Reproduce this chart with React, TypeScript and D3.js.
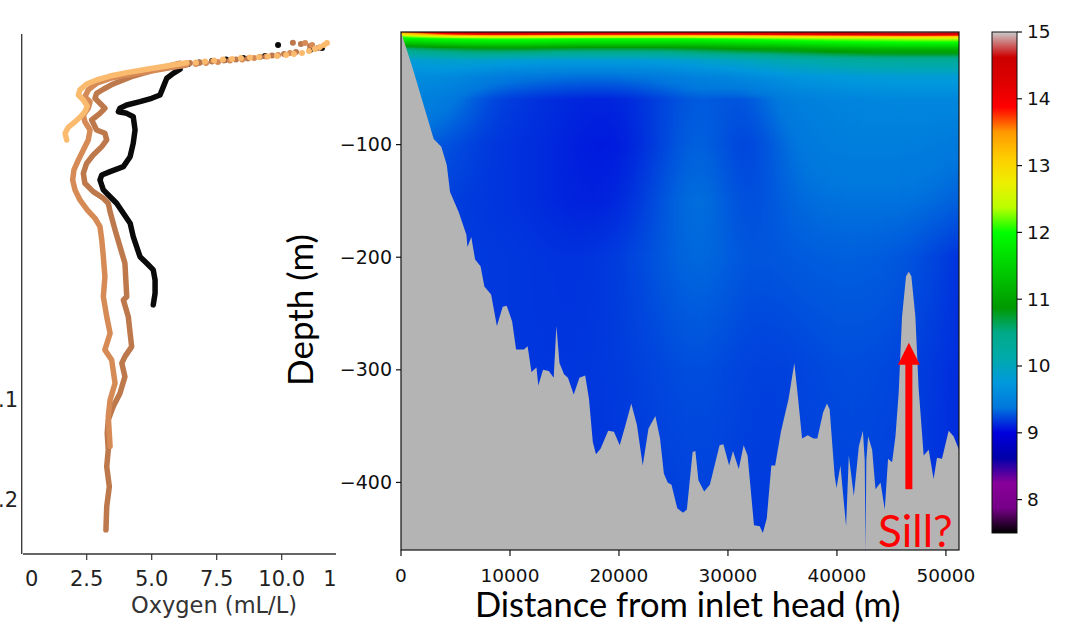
import React from 'react';
import * as d3 from 'd3';

// ---------- Right panel: temperature section ----------
const distanceNodes = [0, 4000, 8000, 12000, 16000, 20000, 24000, 28000, 32000, 36000, 40000, 44000, 48000, 51200];
const depthNodes = [0, 2, 4, 6, 10, 15, 25, 40, 60, 100, 150, 200, 300, 460];
const temperatureRows = [
  [13.6, 14.4, 14.7, 14.6, 14.5, 14.4, 14.4, 14.4, 14.4, 14.5, 14.6, 14.8, 14.9, 14.8],
  [12.9, 13.8, 14.2, 14.1, 14.1, 14.0, 14.0, 14.0, 14.1, 14.2, 14.3, 14.4, 14.5, 14.4],
  [12.2, 12.6, 12.9, 12.8, 12.7, 12.7, 12.6, 12.7, 12.8, 13.0, 13.1, 13.2, 13.3, 13.2],
  [11.9, 12.0, 12.1, 12.1, 12.0, 12.0, 12.0, 12.0, 12.1, 12.2, 12.3, 12.3, 12.4, 12.4],
  [11.3, 11.5, 11.6, 11.6, 11.5, 11.5, 11.5, 11.5, 11.6, 11.7, 11.8, 11.9, 11.9, 11.9],
  [10.5, 10.7, 10.8, 10.8, 10.7, 10.7, 10.7, 10.8, 10.9, 11.0, 11.1, 11.2, 11.2, 11.2],
  [9.8, 9.9, 9.9, 9.8, 9.8, 9.8, 9.8, 9.9, 10.0, 10.1, 10.2, 10.3, 10.3, 10.3],
  [9.6, 9.6, 9.45, 9.38, 9.35, 9.35, 9.4, 9.5, 9.55, 9.7, 9.75, 9.8, 9.8, 9.8],
  [9.5, 9.45, 9.22, 9.16, 9.12, 9.1, 9.2, 9.32, 9.22, 9.45, 9.5, 9.55, 9.55, 9.55],
  [9.32, 9.27, 9.17, 9.15, 9.1, 9.06, 9.2, 9.36, 9.16, 9.36, 9.45, 9.45, 9.45, 9.4],
  [9.24, 9.2, 9.17, 9.15, 9.1, 9.1, 9.25, 9.4, 9.2, 9.32, 9.36, 9.36, 9.36, 9.3],
  [9.2, 9.18, 9.18, 9.17, 9.15, 9.18, 9.27, 9.36, 9.25, 9.28, 9.3, 9.3, 9.26, 9.16],
  [9.18, 9.18, 9.18, 9.17, 9.17, 9.18, 9.22, 9.26, 9.2, 9.2, 9.24, 9.24, 9.2, 9.14],
  [9.16, 9.16, 9.16, 9.16, 9.16, 9.16, 9.18, 9.2, 9.18, 9.18, 9.2, 9.2, 9.18, 9.13],
];

// seabed: [distance (m), depth (m)]
const bathymetry: [number, number][] = [
  [0, 0], [1000, -30], [3000, -95], [3700, -102], [4200, -118], [4500, -142], [5300, -160], [6000, -180],
  [6100, -191], [6450, -182], [6800, -202], [7300, -208], [7650, -226], [8270, -233], [8800, -261],
  [9330, -244], [9700, -243], [10200, -257], [10560, -282], [11270, -282], [11620, -279], [11970, -302],
  [12430, -298], [12600, -314], [13030, -300], [13560, -301], [14010, -307], [14260, -261], [14540, -294],
  [14960, -304], [15320, -307], [15850, -322], [16370, -307], [16900, -305], [17250, -326], [17600, -364],
  [17890, -375], [18310, -370], [19010, -354], [19540, -355], [20070, -367], [20600, -349], [21130, -330],
  [21650, -349], [22180, -385], [22710, -352], [23340, -341], [23770, -361], [24120, -392], [24470, -400],
  [24820, -402], [25350, -423], [25880, -427], [26230, -424], [26760, -373], [27010, -372], [27290, -398],
  [27820, -408], [28340, -402], [29230, -367], [29580, -366], [30110, -385], [30460, -372], [30990, -388],
  [31440, -367], [31800, -376], [32390, -438], [32920, -439], [33200, -445], [33560, -432], [33980, -385],
  [34330, -385], [34860, -355], [35560, -326], [36090, -294], [36440, -326], [36800, -361], [37320, -358],
  [37850, -361], [38200, -361], [38730, -338], [39080, -330], [39330, -335], [39790, -394], [39960, -405],
  [40320, -385], [40840, -439], [41090, -376], [41550, -412], [42010, -368], [42380, -354], [42550, -380],
  [42620, -460], [42700, -380], [42860, -359], [43230, -371], [43540, -406], [44000, -400], [44390, -424],
  [44690, -379], [45060, -382], [45370, -359], [45670, -320], [45970, -253], [46340, -217], [46590, -213],
  [46830, -217], [47200, -253], [47500, -317], [47960, -376], [48420, -371], [48870, -397], [49180, -378],
  [49640, -379], [50250, -354], [50700, -359], [51200, -371],
];

const xTicks = [0, 10000, 20000, 30000, 40000, 50000];
const yTicks = [-100, -200, -300, -400];
const colorTicks = [8, 9, 10, 11, 12, 13, 14, 15];
const sillArrow = { distance: 46600, from: -406, to: -276, label: 'Sill?' };

// ---------- Left panel: oxygen profiles [oxygen (mL/L), depth (m)] ----------
const blackDots: [number, number][] = [
  [9.86, 4.4], [11.55, 7.1], [11.09, 8.8], [9.36, 14.2], [8.52, 15.9], [7.86, 17.3], [7.32, 18.6], [6.82, 19.9], [6.4, 21.2],
];
const blackTrace: [number, number][] = [
  [6.09, 25.9], [5.83, 29.5], [5.58, 33.9], [5.45, 41.3], [5.32, 48.7], [5.0, 51.6], [4.55, 54.6], [4.04, 57.5],
  [3.78, 60.4], [3.72, 63.5], [4.04, 64.9], [4.29, 67.9], [4.36, 79.6], [4.29, 91.4], [4.17, 103.3], [3.91, 112.1],
  [3.4, 116.5], [3.08, 119.5], [3.01, 123.9], [3.14, 132.7], [3.4, 138.7], [3.65, 144.5], [3.91, 153.4],
  [4.17, 162.2], [4.29, 174.1], [4.42, 182.9], [4.55, 191.8], [4.81, 197.6], [5.06, 203.5], [5.13, 212.4],
  [5.13, 224.2], [5.06, 234.5],
];
const copperDarkDots: [number, number][] = [
  [10.43, 2.4], [10.74, 3.5], [11.09, 5.3], [11.4, 7.1], [10.55, 10.6], [10.09, 12.4], [9.63, 13.7], [9.17, 15.0],
  [8.7, 16.4], [8.24, 17.3], [7.78, 18.1], [7.32, 19.0], [6.86, 19.9], [6.47, 20.4],
];
const copperDarkTrace: [number, number][] = [
  [6.09, 20.6], [5.19, 25.9], [4.29, 31.9], [3.52, 38.9], [3.14, 43.6], [2.88, 47.2], [2.82, 51.6], [3.01, 56.0],
  [3.2, 60.4], [3.01, 64.9], [2.69, 70.8], [2.88, 79.6], [3.2, 82.6], [3.27, 88.5], [3.08, 94.4], [2.75, 101.8],
  [2.5, 109.1], [2.37, 118.0], [2.43, 126.8], [2.75, 134.2], [3.14, 140.1], [3.33, 144.5], [3.4, 152.0],
  [3.59, 168.1], [3.78, 182.9], [3.97, 197.6], [4.04, 227.2], [3.91, 230.1], [4.1, 244.9], [4.17, 259.6],
  [4.23, 271.4], [3.97, 280.3], [3.85, 286.1], [3.97, 298.0], [3.78, 312.7], [3.52, 324.5], [3.33, 336.3],
  [3.29, 348.1], [3.33, 362.8], [3.27, 377.6], [3.37, 395.3], [3.27, 413.0], [3.24, 433.6],
];
const copperMidDots: [number, number][] = [
  [10.9, 2.7], [11.17, 4.4], [10.32, 11.5], [9.86, 13.3], [9.4, 14.6], [8.94, 15.9], [8.48, 17.3], [8.01, 18.1],
  [7.55, 19.5], [7.09, 20.4], [6.7, 21.2],
];
const copperMidTrace: [number, number][] = [
  [6.35, 22.1], [5.58, 25.0], [4.81, 28.1], [4.04, 31.0], [3.4, 33.9], [2.88, 38.3], [2.56, 44.2], [2.43, 50.2],
  [2.63, 54.6], [2.56, 60.4], [2.37, 66.4], [2.43, 72.3], [2.63, 79.6], [2.56, 88.5], [2.37, 97.3], [2.18, 106.2],
  [2.01, 115.0], [1.96, 123.9], [2.05, 132.7], [2.24, 141.6], [2.52, 150.4], [2.82, 157.8], [3.01, 165.2],
  [3.08, 177.0], [3.14, 191.8], [3.2, 209.5], [3.14, 227.2], [3.27, 244.9], [3.4, 259.6], [3.2, 274.3],
  [3.46, 283.2], [3.59, 303.8], [3.4, 318.6], [3.33, 333.4], [3.4, 359.9],
];
const copperLightDots: [number, number][] = [
  [11.74, 2.7], [11.63, 4.4], [11.47, 6.2], [11.28, 8.0], [11.05, 9.7], [10.78, 11.5], [10.47, 12.4], [10.17, 13.3],
  [9.82, 14.2], [9.47, 14.6], [9.13, 15.0], [8.78, 15.5], [8.43, 15.9], [8.09, 16.8], [7.74, 17.3], [7.4, 18.1],
  [7.05, 19.0], [6.7, 19.9],
];
const copperLightTrace: [number, number][] = [
  [6.35, 20.1], [5.58, 23.0], [4.81, 25.9], [4.04, 28.9], [3.4, 31.9], [2.88, 35.4], [2.5, 38.9], [2.24, 44.2],
  [2.18, 48.7], [2.37, 53.1], [2.52, 58.4], [2.43, 63.5], [2.24, 68.4], [2.01, 73.2], [1.79, 77.3], [1.67, 82.6],
  [1.73, 88.5],
];
const oxygenTicks = [0, 2.5, 5, 7.5, 10, 12.5];
const leftDepthTicks = [-0.1, -0.2];

// matplotlib nipy_spectral colormap stops (t = 0, 0.05, ..., 1)
const nipyStops = [
  [0, 0, 0], [0.4667, 0, 0.5333], [0.5333, 0, 0.6], [0, 0, 0.6667], [0, 0, 0.8667], [0, 0.4667, 0.8667],
  [0, 0.6, 0.8667], [0, 0.6667, 0.6667], [0, 0.6667, 0.5333], [0, 0.6, 0], [0, 0.7333, 0], [0, 0.8667, 0],
  [0, 1, 0], [0.7333, 1, 0], [0.9333, 0.9333, 0], [1, 0.8, 0], [1, 0.6, 0], [1, 0, 0], [0.8667, 0, 0],
  [0.8, 0, 0], [0.8, 0.8, 0.8],
].map(([r, g, b]) => d3.rgb(r * 255, g * 255, b * 255).formatHex());

const cmap = d3
  .scaleLinear<string>()
  .domain(nipyStops.map((_, i) => 7.5 + 7.5 * (i / 20)))
  .range(nipyStops)
  .interpolate(d3.interpolateRgb)
  .clamp(true);

const rowInterp = temperatureRows.map((row) => d3.interpolateBasis(row));

function tempAt(dist: number, depth: number) {
  const u = Math.max(0, Math.min(1, dist / distanceNodes[distanceNodes.length - 1]));
  const m = depthNodes.length;
  let j = d3.bisectRight(depthNodes, depth) - 1;
  j = Math.max(0, Math.min(m - 2, j));
  const ty = Math.max(0, Math.min(1, (depth - depthNodes[j]) / (depthNodes[j + 1] - depthNodes[j])));
  const a = rowInterp[j](u);
  const b = rowInterp[j + 1](u);
  return a * (1 - ty) + b * ty;
}

const DEJAVU = 'DejaVu Sans, sans-serif';
const LATO = 'Lato, Carlito, sans-serif';
const fmtMinus = (v: number) => (v < 0 ? '\u2212' : '') + Math.abs(v);

export default function App() {
  // right panel scales
  const x = d3.scaleLinear().domain([0, 51200]).range([401, 959]);
  const y = d3.scaleLinear().domain([-460, 0]).range([550, 32]);
  const c = d3.scaleLinear().domain([7.5, 15]).range([533, 32]);
  // left panel scales
  const xl = d3.scaleLinear().domain([0, 12.5]).range([21.7, 346.7]);
  const yl = d3.scaleLinear().domain([0, 455]).range([40, 554]);
  const ylTick = d3.scaleLinear().domain([0, -0.2]).range([300, 500]);

  const [x0, x1] = x.range();
  const yTop = y(0);
  const yBot = y(-460);

  const sampleDepths: number[] = [];
  depthNodes.slice(0, -1).forEach((z, k) => {
    const z2 = depthNodes[k + 1];
    for (let s = 0; s < 4; s++) sampleDepths.push(z + ((z2 - z) * s) / 4);
  });
  sampleDepths.push(460);

  const colW = 2;
  const cols = d3.range(x0, x1, colW);

  const area = d3
    .area<[number, number]>()
    .x((p) => x(p[0]))
    .y0(yBot)
    .y1((p) => y(p[1]));

  const line = d3
    .line<[number, number]>()
    .x((p) => xl(p[0]))
    .y((p) => yl(p[1]));

  const profiles = [
    { color: '#0a0a0a', dots: blackDots, trace: blackTrace },
    { color: '#bd784b', dots: copperDarkDots, trace: copperDarkTrace },
    { color: '#d68b56', dots: copperMidDots, trace: copperMidTrace },
    { color: '#fbbb6f', dots: copperLightDots, trace: copperLightTrace },
  ];

  const ax = x(sillArrow.distance);
  const headBase = y(sillArrow.to) + 22;

  return (
    <svg
      width={1081}
      height={624}
      style={{ position: 'absolute', left: 0, top: 0, background: '#fff' }}
      xmlns="http://www.w3.org/2000/svg"
    >
      <defs>
        {cols.map((px, i) => {
          const dist = x.invert(px + colW / 2);
          return (
            <linearGradient key={i} id={`col${i}`} gradientUnits="userSpaceOnUse" x1={0} y1={yTop} x2={0} y2={yBot}>
              {sampleDepths.map((z, k) => (
                <stop key={k} offset={(y(-z) - yTop) / (yBot - yTop)} stopColor={cmap(tempAt(dist, z))} />
              ))}
            </linearGradient>
          );
        })}
        <linearGradient id="cbar" x1={0} y1={1} x2={0} y2={0}>
          {nipyStops.map((col, i) => (
            <stop key={i} offset={i / 20} stopColor={col} />
          ))}
        </linearGradient>
        <clipPath id="axclip">
          <rect x={x0} y={yTop} width={x1 - x0} height={yBot - yTop} />
        </clipPath>
        <clipPath id="leftclip">
          <rect x={23} y={30} width={313} height={600} />
        </clipPath>
      </defs>

      {/* ---------- Left panel ---------- */}
      <g clipPath="url(#leftclip)">
        {profiles.map((p, i) => (
          <g key={i}>
            <path d={line(p.trace) || ''} fill="none" stroke={p.color} strokeWidth={5.5} strokeLinejoin="round" strokeLinecap="round" />
            {p.dots.map((d, k) => (
              <circle key={k} cx={xl(d[0])} cy={yl(d[1])} r={3} fill={p.color} />
            ))}
          </g>
        ))}
        <line x1={xl(0)} x2={336} y1={554} y2={554} stroke="#333" strokeWidth={1.3} />
        {oxygenTicks.map((t) => (
          <g key={t}>
            <line x1={xl(t)} x2={xl(t)} y1={554} y2={560} stroke="#333" strokeWidth={1.2} />
            <text x={xl(t)} y={586} textAnchor="middle" fontFamily={DEJAVU} fontSize={21} fill="#222">
              {t.toFixed(1)}
            </text>
          </g>
        ))}
      </g>
      <line x1={xl(0)} x2={xl(0)} y1={34} y2={554} stroke="#333" strokeWidth={1.3} />
      {leftDepthTicks.map((t) => (
        <text key={t} x={18} y={ylTick(t)} dy="0.35em" textAnchor="end" fontFamily={DEJAVU} fontSize={21} fill="#222">
          {fmtMinus(t)}
        </text>
      ))}
      <text x={214} y={613} textAnchor="middle" fontFamily={DEJAVU} fontSize={22.5} fill="#333">
        Oxygen (mL/L)
      </text>

      {/* ---------- Right panel ---------- */}
      <g clipPath="url(#axclip)">
        {cols.map((px, i) => (
          <rect key={i} x={px} y={yTop} width={colW + 0.6} height={yBot - yTop} fill={`url(#col${i})`} />
        ))}
        <path d={area(bathymetry) || ''} fill="#b4b4b4" />
      </g>
      <rect x={x0} y={yTop} width={x1 - x0} height={yBot - yTop} fill="none" stroke="#111" strokeWidth={1.2} />

      {yTicks.map((t) => (
        <g key={t}>
          <line x1={x0 - 5} x2={x0} y1={y(t)} y2={y(t)} stroke="#111" strokeWidth={1.2} />
          <text x={x0 - 9} y={y(t)} dy="0.35em" textAnchor="end" fontFamily={DEJAVU} fontSize={19} fill="#111">
            {fmtMinus(t)}
          </text>
        </g>
      ))}
      {xTicks.map((t) => (
        <g key={t}>
          <line x1={x(t)} x2={x(t)} y1={yBot} y2={yBot + 6} stroke="#111" strokeWidth={1.2} />
          <text x={x(t)} y={582} textAnchor="middle" fontFamily={DEJAVU} fontSize={18.5} fill="#111">
            {t}
          </text>
        </g>
      ))}
      <text x={x(26300)} y={617} textAnchor="middle" fontFamily={LATO} fontSize={34.5} fill="#000">
        Distance from inlet head (m)
      </text>
      <text
        transform={`translate(313, ${(yTop + yBot) / 2 + 19}) rotate(-90)`}
        textAnchor="middle"
        fontFamily={LATO}
        fontSize={35}
        fill="#000"
      >
        Depth (m)
      </text>

      {/* Sill annotation */}
      <line x1={ax} x2={ax} y1={y(sillArrow.from)} y2={headBase - 2} stroke="#ff0000" strokeWidth={7} />
      <polygon points={`${ax},${y(sillArrow.to)} ${ax - 11},${headBase} ${ax + 11},${headBase}`} fill="#ff0000" />
      <text x={x(47200)} y={547} textAnchor="middle" fontFamily={LATO} fontSize={44} fill="#ff0000">
        {sillArrow.label}
      </text>

      {/* ---------- Colorbar ---------- */}
      <rect x={992} y={c(15)} width={25} height={c(7.5) - c(15)} fill="url(#cbar)" stroke="#111" strokeWidth={1} />
      {colorTicks.map((t) => (
        <g key={t}>
          <line x1={1017} x2={1022} y1={c(t)} y2={c(t)} stroke="#111" strokeWidth={1.2} />
          <text x={1027} y={c(t)} dy="0.35em" fontFamily={DEJAVU} fontSize={18.5} fill="#111">
            {t}
          </text>
        </g>
      ))}
    </svg>
  );
}
